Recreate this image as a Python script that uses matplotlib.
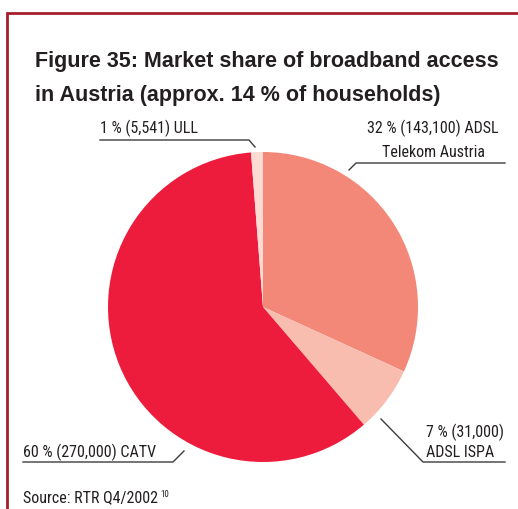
import matplotlib
matplotlib.use("Agg")
import matplotlib.pyplot as plt
from matplotlib import font_manager

# Broadband access in Austria, Q4/2002 (subscriber counts)
categories = ["ADSL Telekom Austria", "ADSL ISPA", "CATV", "ULL"]
subscribers = [143100, 31000, 270000, 5541]
shares = [32, 7, 60, 1]
colors = ["#F38878", "#F9BDB0", "#ED1C3C", "#FDDAD2"]

title_lines = ["Figure 35: Market share of broadband access",
               "in Austria (approx. 14 % of households)"]
source_text = "Source: RTR Q4/2002"
source_note = "10"

W, H = 518, 509


def first_font(names, default):
    for name in names:
        try:
            font_manager.findfont(name, fallback_to_default=False)
            return name
        except Exception:
            pass
    return default


label_font = first_font(["Roboto Condensed", "Archivo Narrow",
                         "Barlow Semi Condensed"], "DejaVu Sans")
title_font = "Liberation Sans"

fig = plt.figure(figsize=(W / 100, H / 100), dpi=100)
ax = fig.add_axes([0, 0, 1, 1])


def Y(y):
    return H - y


# pie geometry (pixels)
cx, cy, R = 263, 307, 155
ax.pie(subscribers, colors=colors, startangle=90, counterclock=False,
       center=(cx, Y(cy)), radius=R, frame=True,
       wedgeprops=dict(linewidth=0))

ax.set_xlim(0, W)
ax.set_ylim(0, H)
ax.axis("off")

# frame on the left and top
border = "#A41E2F"
ax.plot([6.5, 6.5, W + 5], [Y(H + 5), Y(13), Y(13)], color=border, lw=2.0,
        solid_joinstyle="miter", clip_on=False)

# title
for i, line in enumerate(title_lines):
    ax.text(35, Y(67 + 34 * i), line, fontsize=15.5, fontweight="bold",
            family=title_font, color="#231F20", ha="left", va="baseline")

lab_kw = dict(fontsize=11.5, family=label_font, color="#231F20", va="baseline")
lead_kw = dict(color="#3C3C3C", lw=1.0)


def label(i):
    return f"{shares[i]} % ({subscribers[i]:,})"


# ADSL Telekom Austria
ax.text(433, Y(133), label(0) + " ADSL", ha="center", **lab_kw)
ax.text(433, Y(157), "Telekom Austria", ha="center", **lab_kw)
ax.plot([349, 356, 505], [Y(170), Y(163), Y(163)], **lead_kw)

# ADSL ISPA
ax.text(426, Y(437), label(1), ha="left", **lab_kw)
ax.text(426, Y(457), "ADSL ISPA", ha="left", **lab_kw)
ax.plot([381, 423, 505], [Y(419), Y(462), Y(462)], **lead_kw)

# CATV
ax.text(23, Y(457), label(2) + " CATV", ha="left", **lab_kw)
ax.plot([23, 173, 184], [Y(462), Y(462), Y(451)], **lead_kw)

# ULL
ax.text(100, Y(133), label(3) + " ULL", ha="left", **lab_kw)
ax.plot([100, 249, 255], [Y(140), Y(140), Y(147)], **lead_kw)

# source line
t = ax.text(23, Y(502), source_text, ha="left", **lab_kw)
fig.canvas.draw()
bb = t.get_window_extent()
ax.text(bb.x1 + 2, Y(497), source_note, ha="left", fontsize=6.5,
        family=label_font, color="#231F20", va="baseline")

fig.savefig("out.png", dpi=100)
